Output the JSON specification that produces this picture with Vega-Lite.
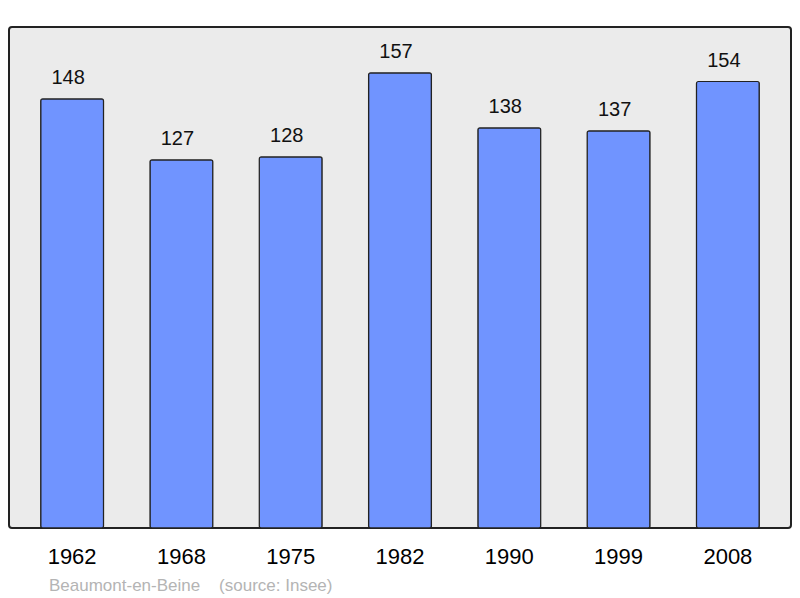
{
  "$schema": "https://vega.github.io/schema/vega-lite/v6.json",
  "autosize": "none",
  "width": 782,
  "height": 501,
  "padding": {"left": 9, "top": 27, "right": 9, "bottom": 70},
  "background": "#ffffff",
  "config": {
    "view": {"fill": "#ebebeb", "stroke": "#222222", "strokeWidth": 2, "cornerRadius": 3},
    "font": "Liberation Sans"
  },
  "title": {
    "text": "Beaumont-en-Beine\u00a0\u00a0\u00a0\u00a0(source:\u00a0Insee)",
    "orient": "bottom",
    "anchor": "start",
    "dx": 40,
    "offset": 11,
    "fontSize": 17,
    "fontWeight": "normal",
    "color": "#b4b4b4",
    "font": "Liberation Sans"
  },
  "data": {
    "values": [
      {"year": "1962", "pop": 148},
      {"year": "1968", "pop": 127},
      {"year": "1975", "pop": 128},
      {"year": "1982", "pop": 157},
      {"year": "1990", "pop": 138},
      {"year": "1999", "pop": 137},
      {"year": "2008", "pop": 154}
    ]
  },
  "encoding": {
    "x": {
      "field": "year",
      "type": "ordinal",
      "sort": null,
      "scale": {"paddingInner": 0.425, "paddingOuter": 0.29},
      "axis": {
        "title": null,
        "domain": false,
        "ticks": false,
        "labelAngle": 0,
        "labelFontSize": 22,
        "labelColor": "#000000",
        "labelPadding": 18,
        "labelFont": "Liberation Sans"
      }
    },
    "y": {
      "field": "pop",
      "type": "quantitative",
      "scale": {"domain": [0, 172.8], "nice": false},
      "axis": null
    }
  },
  "layer": [
    {
      "mark": {"type": "bar", "fill": "#7094ff", "stroke": "#222222", "strokeWidth": 1.2, "cornerRadius": 2}
    },
    {
      "mark": {"type": "text", "baseline": "alphabetic", "dx": -4, "dy": -15, "fontSize": 20, "color": "#111111", "font": "Liberation Sans"},
      "encoding": {"text": {"field": "pop", "type": "quantitative"}}
    }
  ]
}
